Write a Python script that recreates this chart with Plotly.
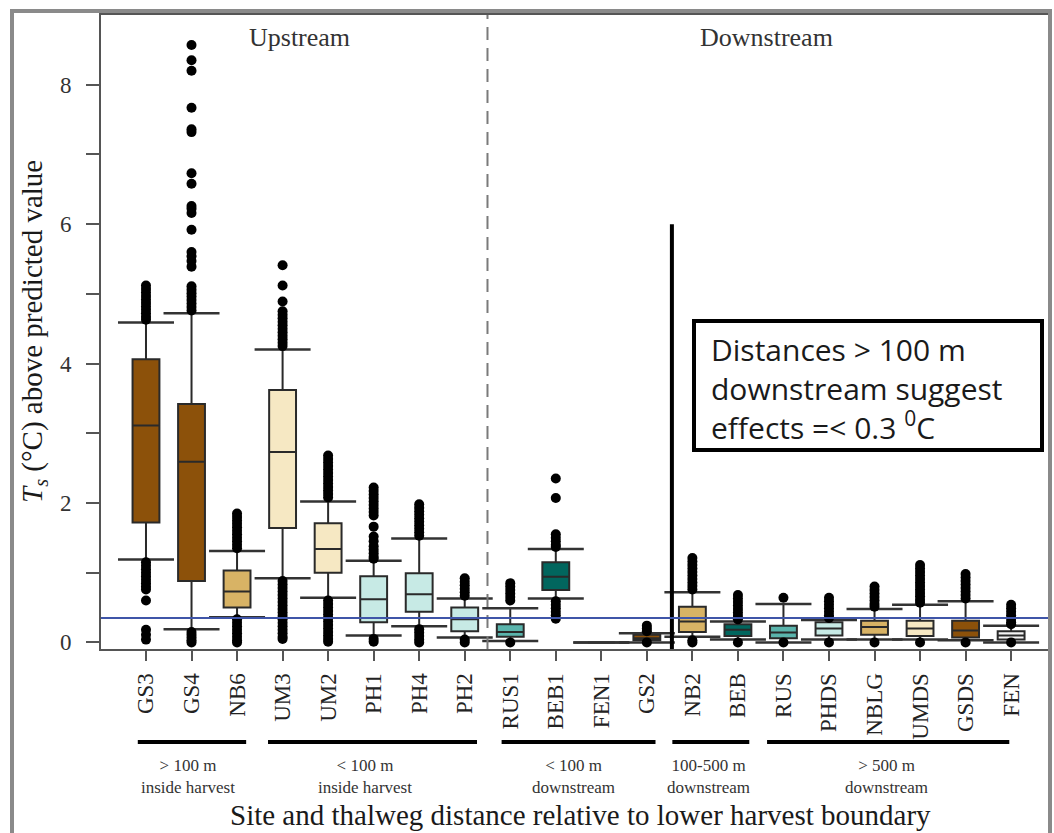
import plotly.graph_objects as go

# ---------------- data ----------------
sites = ["GS3", "GS4", "NB6", "UM3", "UM2", "PH1", "PH4", "PH2", "RUS1", "BEB1",
         "FEN1", "GS2", "NB2", "BEB", "RUS", "PHDS", "NBLG", "UMDS", "GSDS", "FEN"]
stream = ["GS", "GS", "NB", "UM", "UM", "PH", "PH", "PH", "RUS", "BEB",
          "FEN", "GS", "NB", "BEB", "RUS", "PH", "NB", "UM", "GS", "FEN"]

q1 = [1.72, 0.88, 0.50, 1.64, 1.00, 0.29, 0.44, 0.16, 0.08, 0.75,
      0.00, 0.03, 0.15, 0.09, 0.06, 0.10, 0.11, 0.09, 0.07, 0.04]
median = [3.11, 2.59, 0.73, 2.73, 1.34, 0.62, 0.69, 0.33, 0.15, 0.94,
          0.00, 0.06, 0.30, 0.18, 0.14, 0.20, 0.22, 0.20, 0.17, 0.10]
q3 = [4.06, 3.42, 1.03, 3.62, 1.71, 0.95, 0.99, 0.50, 0.26, 1.15,
      0.00, 0.11, 0.51, 0.26, 0.24, 0.29, 0.31, 0.31, 0.31, 0.16]
lower_fence = [1.19, 0.19, 0.36, 0.92, 0.64, 0.10, 0.23, 0.07, 0.02, 0.63,
               0.00, 0.00, 0.08, 0.04, 0.00, 0.04, 0.04, 0.04, 0.03, 0.00]
upper_fence = [4.59, 4.72, 1.31, 4.20, 2.02, 1.17, 1.49, 0.63, 0.49, 1.34,
               0.00, 0.13, 0.72, 0.30, 0.55, 0.32, 0.48, 0.54, 0.59, 0.24]

outliers = [
    [5.12, 5.07, 5.02, 4.97, 4.92, 4.87, 4.82, 4.77, 4.72, 4.67, 4.63,
     1.15, 1.10, 1.05, 1.00, 0.95, 0.90, 0.85, 0.80, 0.76, 0.60, 0.18, 0.11, 0.04],
    [8.57, 8.35, 8.20, 7.67, 7.36, 7.32, 6.73, 6.58, 6.26, 6.22, 6.16, 5.92,
     5.60, 5.54, 5.47, 5.39, 5.11, 5.06, 5.01, 4.96, 4.91, 4.86, 4.81, 4.76,
     0.15, 0.11, 0.07, 0.03, 0.00],
    [1.85, 1.80, 1.75, 1.70, 1.65, 1.60, 1.55, 1.50, 1.45, 1.40, 1.35,
     0.33, 0.28, 0.23, 0.18, 0.13, 0.08, 0.03, 0.00],
    [5.41, 5.12, 4.89, 4.75, 4.70, 4.65, 4.60, 4.55, 4.50, 4.45, 4.40, 4.35, 4.30, 4.25,
     0.88, 0.83, 0.78, 0.73, 0.68, 0.63, 0.58, 0.53, 0.48, 0.43, 0.38, 0.33,
     0.28, 0.23, 0.18, 0.13, 0.08, 0.05],
    [2.68, 2.63, 2.58, 2.53, 2.48, 2.43, 2.38, 2.33, 2.28, 2.23, 2.18, 2.13, 2.08,
     0.60, 0.55, 0.50, 0.45, 0.40, 0.35, 0.30, 0.25, 0.20, 0.15, 0.10, 0.05, 0.01],
    [2.22, 2.17, 2.12, 2.07, 2.02, 1.97, 1.92, 1.87, 1.82, 1.66, 1.52, 1.45,
     1.38, 1.33, 1.28, 1.23, 1.20, 0.05, 0.01],
    [1.98, 1.93, 1.88, 1.83, 1.78, 1.73, 1.68, 1.63, 1.58, 1.53,
     0.19, 0.14, 0.09, 0.04, 0.00],
    [0.92, 0.87, 0.82, 0.77, 0.72, 0.67, 0.04, 0.00],
    [0.85, 0.80, 0.75, 0.70, 0.65, 0.60, 0.00],
    [2.35, 2.07, 1.55, 1.50, 1.45, 1.40, 1.37, 0.59, 0.54, 0.49, 0.44, 0.39, 0.34],
    [],
    [0.24, 0.20, 0.16, 0.00],
    [1.21, 1.16, 1.11, 1.06, 1.01, 0.96, 0.91, 0.86, 0.81, 0.76, 0.03, 0.00],
    [0.68, 0.63, 0.58, 0.53, 0.48, 0.43, 0.38, 0.33, 0.00],
    [0.64, 0.00],
    [0.64, 0.59, 0.54, 0.49, 0.44, 0.39, 0.35, 0.00],
    [0.80, 0.75, 0.70, 0.65, 0.60, 0.55, 0.51, 0.00],
    [1.11, 1.06, 1.01, 0.96, 0.91, 0.86, 0.81, 0.76, 0.71, 0.66, 0.61, 0.57, 0.00],
    [0.98, 0.93, 0.88, 0.83, 0.78, 0.73, 0.68, 0.63, 0.00],
    [0.54, 0.49, 0.44, 0.39, 0.34, 0.29, 0.26, 0.00],
]

threshold = 0.35
y_tick_vals = [0, 2, 4, 6, 8]
y_tick_text = ["0", "2", "4", "6", "8"]
y_minor_vals = [1, 3, 5, 7]

group_labels = ["&gt; 100 m<br>inside harvest", "&lt; 100 m<br>inside harvest",
                "&lt; 100 m<br>downstream", "100-500 m<br>downstream",
                "&gt; 500 m<br>downstream"]

# ---------------- styles / layout positions ----------------
stream_colors = {"GS": "#8c510a", "NB": "#d8b365", "UM": "#f6e8c3", "PH": "#c7eae5",
                 "RUS": "#5ab4ac", "BEB": "#01665e", "FEN": "#f4f4f4"}
group_start = [-0.18, 2.68, 7.81, 11.56, 13.64]
group_end = [2.20, 7.27, 11.19, 13.25, 18.96]
group_center = [0.93, 4.80, 9.38, 12.35, 16.27]

SERIF = "Liberation Serif"
W, H = 1054, 833
ML, MR, MT, MB = 101, 6, 15, 184
PW, PH = W - ML - MR, H - MT - MB


def py(px):   # pixel row -> paper y
    return (H - MB - px) / PH


def pxx(px):  # pixel col -> paper x
    return (px - ML) / PW


fig = go.Figure()
idx = list(range(len(sites)))

for i, s in enumerate(sites):
    fig.add_trace(go.Box(
        x=[i], q1=[q1[i]], median=[median[i]], q3=[q3[i]],
        lowerfence=[lower_fence[i]], upperfence=[upper_fence[i]],
        width=0.59, whiskerwidth=0, boxpoints=False,
        fillcolor=stream_colors[stream[i]],
        line=dict(color="#2a2a2a", width=2),
        name=s, showlegend=False, hoverinfo="skip"))

# whisker caps
fig.add_trace(go.Scatter(
    x=idx + idx, y=lower_fence + upper_fence, mode="markers",
    marker=dict(symbol="line-ew", size=40, line=dict(width=2.5, color="#333333")),
    showlegend=False, hoverinfo="skip"))

# outliers
ox, oy = [], []
for i, vals in enumerate(outliers):
    ox += [i] * len(vals)
    oy += vals
fig.add_trace(go.Scatter(
    x=ox, y=oy, mode="markers",
    marker=dict(symbol="circle", size=10, color="black"),
    showlegend=False, hoverinfo="skip"))

shapes = []
# dashed upstream/downstream divider
shapes.append(dict(type="line", xref="x", yref="paper", x0=7.5, x1=7.5, y0=0, y1=1,
                   line=dict(color="#7a7a7a", width=2, dash="13px,8px"), layer="above"))
# solid black divider
shapes.append(dict(type="line", xref="x", yref="y", x0=11.55, x1=11.55, y0=6.0, y1=-0.095,
                   line=dict(color="black", width=4), layer="above"))
# threshold line
shapes.append(dict(type="line", xref="paper", yref="y", x0=0, x1=1, y0=threshold, y1=threshold,
                   line=dict(color="#3f55a8", width=2), layer="above"))
# note box
shapes.append(dict(type="rect", xref="paper", yref="paper",
                   x0=pxx(694), x1=pxx(1042), y0=py(450), y1=py(321),
                   fillcolor="white", line=dict(color="black", width=4), layer="above"))
# group lines
for a, b in zip(group_start, group_end):
    shapes.append(dict(type="line", xref="x", yref="paper", x0=a, x1=b,
                       y0=py(742), y1=py(742), line=dict(color="black", width=4)))
# outer frame
shapes.append(dict(type="rect", xref="paper", yref="paper",
                   x0=pxx(12), x1=pxx(1050), y0=py(845), y1=py(11),
                   line=dict(color="#8a8a8a", width=4)))

annotations = []
for c, t in zip(group_center, group_labels):
    annotations.append(dict(xref="x", yref="paper", x=c, y=py(776), text=t, showarrow=False,
                            font=dict(family=SERIF, size=17, color="#333333"),
                            xanchor="center", yanchor="middle"))
annotations.append(dict(xref="paper", yref="paper", x=pxx(580), y=py(815),
                        text="Site and thalweg distance relative to lower harvest boundary",
                        showarrow=False, font=dict(family=SERIF, size=29, color="#1a1a1a"),
                        xanchor="center", yanchor="middle"))
annotations.append(dict(xref="paper", yref="paper", x=pxx(34), y=0.5,
                        text="<i>T<sub>s</sub></i> (°C) above predicted value",
                        textangle=-90, showarrow=False,
                        font=dict(family=SERIF, size=29, color="#1a1a1a"),
                        xanchor="center", yanchor="middle"))
annotations.append(dict(xref="paper", yref="paper", x=pxx(299), y=py(37), text="Upstream",
                        showarrow=False, font=dict(family=SERIF, size=26, color="#333333"),
                        xanchor="center", yanchor="middle"))
annotations.append(dict(xref="paper", yref="paper", x=pxx(766), y=py(37), text="Downstream",
                        showarrow=False, font=dict(family=SERIF, size=26, color="#333333"),
                        xanchor="center", yanchor="middle"))
annotations.append(dict(xref="paper", yref="paper", x=pxx(709), y=py(388),
                        xanchor="left", yanchor="middle", align="left",
                        text="Distances &gt; 100 m<br>downstream suggest<br>effects =&lt; 0.3 <sup>0</sup>C",
                        showarrow=False,
                        font=dict(family="Open Sans", size=30, color="#1a1a1a")))

fig.update_layout(
    width=W, height=H, margin=dict(l=ML, r=MR, t=MT, b=MB),
    paper_bgcolor="white", plot_bgcolor="white",
    shapes=shapes, annotations=annotations, showlegend=False,
    xaxis=dict(range=[-0.988, 19.81], tickvals=idx, ticktext=sites, tickangle=-90,
               showgrid=False, zeroline=False, showline=True, linecolor="#555555",
               linewidth=2, mirror=True, ticks="outside", ticklen=10, tickwidth=2,
               tickcolor="#555555", ticklabelstandoff=3,
               tickfont=dict(family=SERIF, size=23, color="#222222")),
    yaxis=dict(range=[-0.095, 9.0], tickvals=y_tick_vals, ticktext=y_tick_text,
               showgrid=False, zeroline=False, showline=True, linecolor="#555555",
               linewidth=2, ticks="outside", ticklen=13, tickwidth=2,
               tickcolor="#555555", ticklabelstandoff=10,
               tickfont=dict(family=SERIF, size=23, color="#333333"),
               minor=dict(tickvals=y_minor_vals, ticks="outside", ticklen=13,
                          tickwidth=2, tickcolor="#555555", showgrid=False)),
)

fig.write_html("out.html")
